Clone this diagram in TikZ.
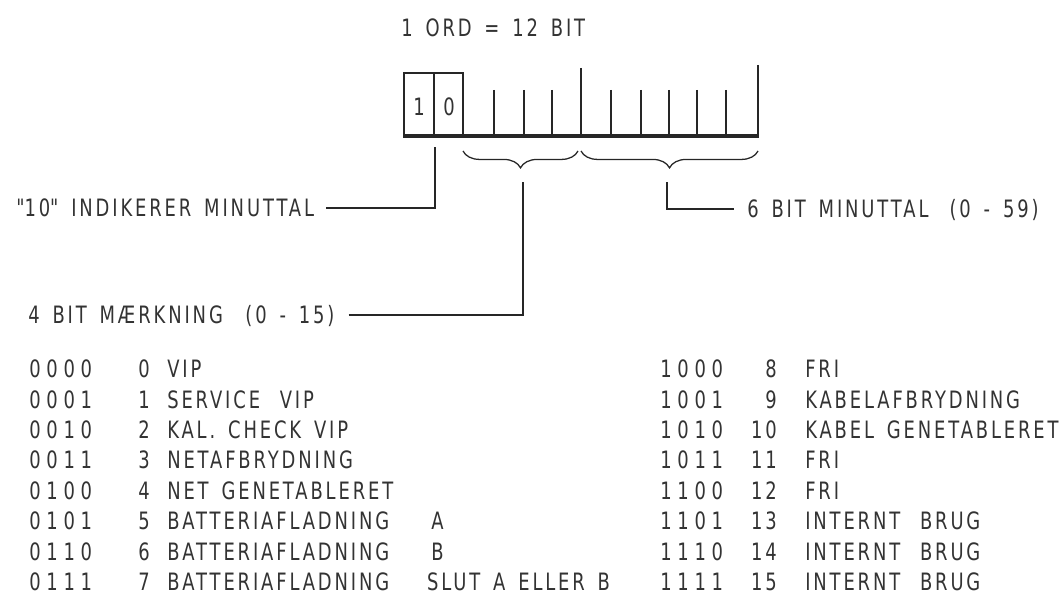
\documentclass[tikz,border=0pt]{standalone}
\usepackage{fontspec}
\setmainfont{DejaVu Sans}[FakeStretch=0.75,LetterSpace=12,WordSpace=1.5]
\newfontfamily\qfont{DejaVu Sans}[FakeStretch=0.75,LetterSpace=12]
\usetikzlibrary{decorations.pathreplacing}
\begin{document}
\begin{tikzpicture}[x=0.025cm,y=-0.025cm,
  txt/.style={font=\fontsize{17}{20}\selectfont, text=black!80, inner sep=0pt,
              text height=12.4pt, text depth=0pt, anchor=west},
  code/.style={txt, font=\fontsize{17}{20}\selectfont\addfontfeatures{LetterSpace=24}},
  num/.style={txt, anchor=east},
  ln/.style={line width=0.9pt, draw=black!85},
  base/.style={line width=3pt, draw=black!85},
  brc/.style={ln, decorate, decoration={brace, mirror, amplitude=12pt}},
]
\useasboundingbox (0,0) rectangle (1062,597);

% title
\node[txt] (title) at (401,28) {1 ORD = 12 BIT};

% register
\draw[ln] (404,136) -- (404,73) -- (463,73) -- (463,136);
\draw[ln] (434,73) -- (434,136);
\foreach \x in {494,524,552,611,641,669,697,726} \draw[ln] (\x,90) -- (\x,136);
\draw[ln] (581,68) -- (581,136);
\draw[ln] (758,65) -- (758,136);
\draw[base] (403,136) -- (759,136);
\node[txt, anchor=center] (bitA) at (419,107) {1};
\node[txt, anchor=center] (bitB) at (449,107) {0};

% braces
\draw[brc] (463,151) -- (578,151);
\draw[brc] (581,151) -- (758,151);

\coordinate (d10) at (435,147);
\coordinate (b1) at (523,182);
\coordinate (b2) at (667,182);

% labels
\node[txt] (t10) at (16,208) {{\qfont"}10{\qfont"} INDIKERER MINUTTAL};
\node[txt] (t4) at (28,315) {4 BIT MÆRKNING\hspace{16pt}(0 - 15)};
\node[txt] (t6) at (747,209) {6 BIT MINUTTAL\hspace{15pt}(0 - 59)};
\draw[ln, shorten <=8.5pt] (t10.east) -| (d10);
\draw[ln, shorten <=10pt] (t4.east) -| (b1);
\draw[ln, shorten >=9pt] (b2) |- (t6.west);

% table left
\foreach \i/\c/\n/\t in {0/0000/0/VIP, 1/0001/1/{SERVICE\hspace{14pt}VIP}, 2/0010/2/{KAL. CHECK VIP},
  3/0011/3/NETAFBRYDNING, 4/0100/4/{NET GENETABLERET}, 5/0101/5/{BATTERIAFLADNING\hspace{30pt}A},
  6/0110/6/{BATTERIAFLADNING\hspace{30pt}B}, 7/0111/7/{BATTERIAFLADNING\hspace{27pt}SLUT A ELLER B}}{
  \node[code] (lc\i) at (29,369+30.4*\i) {\c};
  \node[num] (ln\i) at (150,369+30.4*\i) {\n};
  \node[txt] (lt\i) at (167,369+30.4*\i) {\t};
}
% table right
\foreach \i/\c/\n/\t in {0/1000/8/FRI, 1/1001/9/KABELAFBRYDNING, 2/1010/10/{KABEL GENETABLERET},
  3/1011/11/FRI, 4/1100/12/FRI, 5/1101/13/{INTERNT\hspace{14pt}BRUG},
  6/1110/14/{INTERNT\hspace{14pt}BRUG}, 7/1111/15/{INTERNT\hspace{14pt}BRUG}}{
  \node[code] (rc\i) at (660,369+30.4*\i) {\c};
  \node[num] (rn\i) at (777,369+30.4*\i) {\n};
  \node[txt] (rt\i) at (805,369+30.4*\i) {\t};
}
\end{tikzpicture}
\end{document}
